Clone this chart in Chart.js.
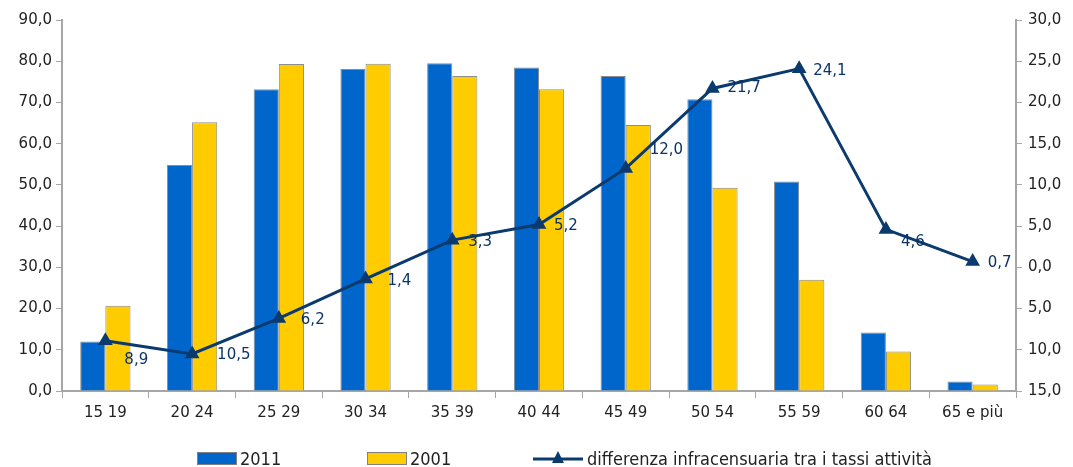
<!DOCTYPE html>
<html>
<head>
<meta charset="utf-8">
<script src="https://cdn.jsdelivr.net/npm/chart.js@4.4.0/dist/chart.umd.min.js"></script>
<style>
  html, body { margin: 0; padding: 0; background: #fff; }
  #wrap { width: 1073px; height: 467px; position: relative; }
</style>
</head>
<body>
<div id="wrap"><canvas id="chart"></canvas></div>
<script>
// Age groups
const categories = ["15 19", "20 24", "25 29", "30 34", "35 39", "40 44", "45 49", "50 54", "55 59", "60 64", "65 e più"];
// Activity rates
const rates2011 = [12.0, 54.8, 73.2, 78.1, 79.5, 78.5, 76.4, 70.8, 50.8, 14.2, 2.3];
const rates2001 = [20.7, 65.2, 79.3, 79.4, 76.4, 73.2, 64.5, 49.3, 27.0, 9.6, 1.6];
// Difference between the two censuses (right axis)
const difference = [-8.9, -10.5, -6.2, -1.4, 3.3, 5.2, 12.0, 21.7, 24.1, 4.6, 0.7];

const axisGray = "#a6a6a6";
const navy = "#0b3a6e";
const tickFont = { family: "DejaVu Sans", size: 15 };

function fmt(v) {
    return Math.abs(v).toFixed(1).replace(".", ",");
}

// where each label sits relative to its point (like Excel placed them)
const labelShift = [[19, 19], [25, 1], [22, 2], [22, 2], [16, 2], [15, 2], [24, -18], [15, 0], [14, 2], [15, 13], [15, 2]];

const pointLabels = {
    id: "pointLabels",
    afterDatasetsDraw(chart) {
        const ctx = chart.ctx;
        const meta = chart.getDatasetMeta(2);
        ctx.save();
        ctx.fillStyle = "#0a3366";
        ctx.font = "15px 'DejaVu Sans'";
        ctx.textBaseline = "middle";
        meta.data.forEach((pt, i) => {
            const s = labelShift[i];
            ctx.fillText(fmt(difference[i]), pt.x + s[0], pt.y + s[1]);
        });
        ctx.restore();
    }
};

// legend drawn at the bottom
const bottomLegend = {
    id: "bottomLegend",
    afterDraw(chart) {
        const ctx = chart.ctx;
        const y = 459;
        ctx.save();
        ctx.font = "18px 'Liberation Sans Narrow', 'DejaVu Sans Condensed'";
        ctx.textBaseline = "middle";
        ctx.lineWidth = 1;
        ctx.strokeStyle = "#808080";
        ctx.fillStyle = "#0066cc";
        ctx.fillRect(197.5, y - 6.5, 39, 12);
        ctx.strokeRect(197.5, y - 6.5, 39, 12);
        ctx.fillStyle = "#222";
        ctx.fillText("2011", 240, y + 1);
        ctx.fillStyle = "#ffcc00";
        ctx.fillRect(367.5, y - 6.5, 39, 12);
        ctx.strokeRect(367.5, y - 6.5, 39, 12);
        ctx.fillStyle = "#222";
        ctx.fillText("2001", 410, y + 1);
        ctx.strokeStyle = navy;
        ctx.lineWidth = 3;
        ctx.beginPath();
        ctx.moveTo(533, y);
        ctx.lineTo(583, y);
        ctx.stroke();
        ctx.fillStyle = navy;
        ctx.beginPath();
        ctx.moveTo(558, y - 8);
        ctx.lineTo(564, y + 4);
        ctx.lineTo(552, y + 4);
        ctx.closePath();
        ctx.fill();
        ctx.fillStyle = "#222";
        ctx.fillText("differenza infracensuaria tra i tassi attività", 587, y + 1);
        ctx.restore();
    }
};

new Chart(document.getElementById("chart"), {
    type: "bar",
    data: {
        labels: categories,
        datasets: [
            {
                label: "2011",
                data: rates2011,
                backgroundColor: "#0066cc",
                borderColor: "#8c8c8c",
                borderWidth: 1,
                categoryPercentage: 0.58,
                barPercentage: 1,
                yAxisID: "y",
                order: 2
            },
            {
                label: "2001",
                data: rates2001,
                backgroundColor: "#ffcc00",
                borderColor: "#8c8c8c",
                borderWidth: 1,
                categoryPercentage: 0.58,
                barPercentage: 1,
                yAxisID: "y",
                order: 2
            },
            {
                type: "line",
                label: "differenza infracensuaria tra i tassi attività",
                data: difference,
                borderColor: navy,
                backgroundColor: navy,
                borderWidth: 3,
                pointStyle: "triangle",
                pointRadius: 8.5,
                pointBorderWidth: 0,
                tension: 0,
                yAxisID: "y1",
                order: 1
            }
        ]
    },
    options: {
        responsive: true,
        maintainAspectRatio: false,
        animation: false,
        layout: { padding: { top: 20, bottom: 36, left: 0, right: 0 } },
        plugins: {
            legend: { display: false },
            tooltip: { enabled: false }
        },
        scales: {
            x: {
                grid: { display: true, drawOnChartArea: false, color: axisGray, tickLength: 7, offset: true },
                border: { color: axisGray, width: 2 },
                ticks: { color: "#222", font: tickFont, padding: 6, maxRotation: 0 },
                afterFit(axis) { axis.height = 40; }
            },
            y: {
                position: "left",
                min: 0,
                max: 90,
                grid: { display: true, drawOnChartArea: false, color: axisGray, tickLength: 6 },
                border: { color: axisGray, width: 2 },
                ticks: { stepSize: 10, color: "#222", font: tickFont, padding: 4, callback: v => fmt(v) },
                afterFit(axis) { axis.width = 62; }
            },
            y1: {
                position: "right",
                min: -15,
                max: 30,
                grid: { display: true, drawOnChartArea: false, color: axisGray, tickLength: 6 },
                border: { color: axisGray, width: 2 },
                ticks: { stepSize: 5, color: "#222", font: tickFont, padding: 6, callback: v => fmt(v) },
                afterFit(axis) { axis.width = 57; }
            }
        }
    },
    plugins: [pointLabels, bottomLegend]
});
</script>
</body>
</html>
